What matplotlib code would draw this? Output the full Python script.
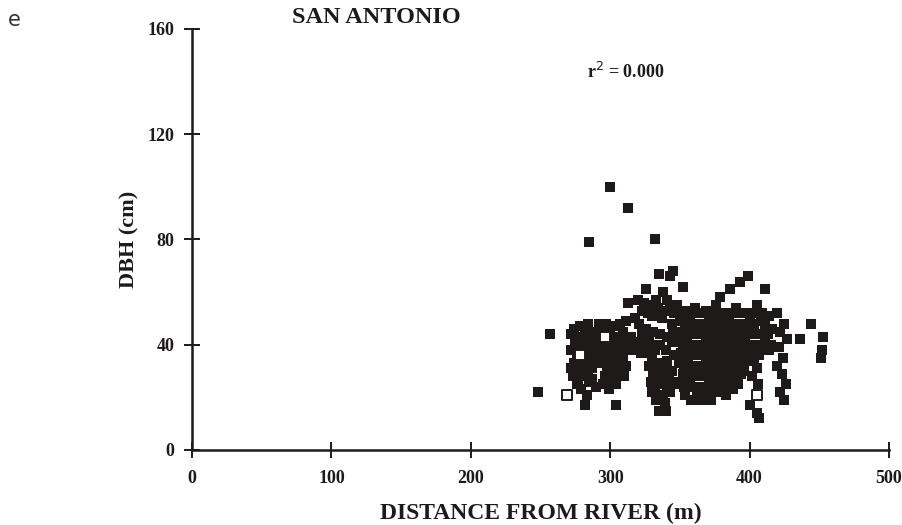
import matplotlib
matplotlib.use("Agg")
import matplotlib.pyplot as plt

# ---- data (distance from river in m, DBH in cm) ----
fill_x = [
    # outliers
    300, 313, 285, 332, 248, 257, 282, 304, 335,
    # left column
    272, 275, 272, 276, 274, 278, 273, 276, 279, 282, 285, 281, 286, 283, 287,
    281, 285, 288, 284, 278, 289, 280, 277, 283, 275, 288,
    274, 277, 280, 279, 272, 284, 287, 290, 283, 277, 290, 291,
    # block B
    292, 297, 302, 307, 311, 294, 293, 296, 294, 298, 301, 304, 299, 303, 306,
    302, 308, 310, 296, 305, 309, 312, 300, 307,
    295, 300, 304, 309, 297, 301, 305, 298, 303, 306, 295, 309, 311, 299,
    # band C
    313, 317, 321, 325, 329, 333, 316, 322, 327,
    315, 319, 324, 328, 332, 336, 340, 344, 346,
    # column D
    330, 334, 338, 331, 336, 340, 332, 337, 333, 339, 342, 341, 329, 343,
    332, 336, 330, 334, 338, 341, 344, 346, 328, 340,
    # upper E
    320, 324, 329, 334, 339, 343, 321, 326, 331, 336, 341, 330, 337, 344, 326,
    338, 335, 343, 352, 313, 345,
    323, 327, 333, 341, 346, 348, 323, 318, 345,
    # main blob
    355, 361, 369, 376, 382, 390, 398, 405,
    350, 357, 364, 371, 378, 385, 392, 400, 408, 414,
    352, 359, 366, 373, 380, 387, 394, 401, 409, 416,
    348, 355, 362, 369, 376, 383, 390, 397, 404, 411,
    351, 358, 365, 372, 379, 386, 393, 400, 407, 414,
    349, 356, 363, 370, 377, 384, 391, 398,
    352, 359, 366, 373, 380, 387, 394,
    350, 357, 364, 371, 378, 385, 392,
    354, 362, 369, 376, 383,
    379, 386, 393, 399, 411, 361, 369, 355, 388, 396,
    353, 360, 367, 374, 381, 388, 395, 402, 409,
    354, 361, 368, 375, 382, 389, 396, 403, 411,
    349, 356, 363, 370, 377, 384, 391, 398, 405, 413,
    352, 359, 366, 373, 380, 387, 394, 401, 408, 415,
    348, 355, 362, 369, 376, 383, 390, 397, 404,
    353, 360, 367, 374, 381, 388, 395,
    355, 362, 369, 376, 383, 390,
    353, 360, 367, 374, 381, 388,
    358, 365, 372,
    # column near 400
    403, 405, 402, 406, 400, 405, 407,
    # column near 422
    420, 425, 422, 427, 421, 424, 420, 423, 426, 422, 425,
    # far right
    436, 444, 453, 452, 451,
]
fill_y = [
    100, 92, 79, 80, 22, 44, 17, 17, 15,
    44, 41, 38, 36, 33, 30, 28, 25, 23, 46, 43, 39, 37, 34, 31,
    28, 26, 40, 48, 47, 45, 42, 39, 31, 30, 34,
    46, 43, 36, 33, 31, 29, 27, 24, 21, 27, 36, 42,
    48, 48, 47, 48, 49, 44, 40, 37, 33, 30, 27, 25, 42, 39, 36,
    33, 30, 28, 28, 43, 41, 38, 35, 33,
    46, 44, 47, 45, 40, 37, 40, 33, 30, 28, 25, 35, 32, 23,
    41, 40, 41, 40, 39, 40, 38, 37, 37,
    43, 38, 42, 41, 38, 40, 38, 41, 36,
    35, 33, 31, 29, 27, 25, 23, 21, 19, 18, 28, 34, 26, 22,
    32, 30, 22, 25, 19, 22, 30, 26, 32, 15,
    57, 56, 55, 54, 53, 55, 48, 46, 45, 44, 43, 51, 50, 48, 61,
    60, 67, 66, 62, 56, 68,
    53, 52, 57, 57, 52, 55, 45, 50, 45,
    53, 54, 53, 55, 52, 54, 52, 55,
    49, 50, 48, 50, 49, 51, 48, 50, 49, 51,
    45, 46, 44, 46, 45, 47, 45, 46, 44, 46,
    41, 42, 40, 42, 41, 43, 41, 42, 40, 42,
    37, 38, 36, 38, 37, 39, 37, 38, 36, 38,
    33, 34, 32, 34, 33, 35, 33, 34,
    29, 30, 28, 30, 29, 31, 29,
    25, 26, 24, 26, 25, 27, 25,
    21, 22, 20, 22, 21,
    58, 61, 64, 66, 61, 31, 35, 24, 23, 30,
    52, 52, 52, 52, 52, 52, 52, 52, 52,
    48, 48, 48, 48, 48, 48, 48, 48, 48,
    44, 44, 44, 44, 44, 44, 44, 44, 44, 44,
    40, 40, 40, 40, 40, 40, 40, 40, 40, 40,
    36, 36, 36, 36, 36, 36, 36, 36, 36,
    32, 32, 32, 32, 32, 32, 32,
    28, 28, 28, 28, 28, 28,
    24, 24, 24, 24, 24, 24,
    19, 19, 19,
    35, 31, 28, 25, 17, 14, 12,
    52, 48, 45, 42, 39, 35, 32, 29, 25, 22, 19,
    42, 48, 43, 38, 35,
]
open_x = [269, 405, 296, 278]
open_y = [21, 21, 43, 36]

x_ticks = [0, 100, 200, 300, 400, 500]
y_ticks = [0, 40, 80, 120, 160]

serif = ["Liberation Serif", "DejaVu Serif"]
ink = "#1e1a1a"

fig = plt.figure(figsize=(9.02, 5.25), dpi=100)
ax = fig.add_axes([0.2129, 0.1429, 0.9856 - 0.2129, 0.9448 - 0.1429])

ax.scatter(fill_x, fill_y, marker="s", s=44, c=ink, linewidths=0, clip_on=False, zorder=3)
ax.scatter(open_x, open_y, marker="s", s=44, facecolors="white", edgecolors=ink,
           linewidths=1.4, clip_on=False, zorder=4)

ax.set_xlim(0, 500)
ax.set_ylim(0, 160)
ax.set_xticks(x_ticks)
ax.set_yticks(y_ticks)
ax.set_xticklabels([str(t) for t in x_ticks], fontfamily=serif, fontweight="bold", fontsize=13)
ax.set_yticklabels([str(t) for t in y_ticks], fontfamily=serif, fontweight="bold", fontsize=13)
for s in ["top", "right"]:
    ax.spines[s].set_visible(False)
for s in ["left", "bottom"]:
    ax.spines[s].set_linewidth(1.8)
    ax.spines[s].set_color(ink)
ax.tick_params(axis="both", direction="inout", length=11, width=1.4, color=ink, labelcolor=ink)
ax.tick_params(axis="x", pad=9)
ax.tick_params(axis="y", pad=7)

ax.set_xlabel("DISTANCE FROM RIVER (m)", fontfamily=serif, fontweight="bold", fontsize=17,
              labelpad=11, color=ink)
ax.set_ylabel("DBH (cm)", fontfamily=serif, fontweight="bold", fontsize=16, labelpad=6, color=ink)

fig.text(0.417, 0.966, "SAN ANTONIO", fontfamily=serif, fontweight="bold", fontsize=17.5,
         ha="center", va="center", color=ink)
ax.text(283, 143.5, "r$^2$ = 0.000", fontfamily=serif, fontweight="bold", fontsize=13,
        ha="left", va="center", color=ink)
fig.text(0.009, 0.962, "e", fontfamily="DejaVu Sans", fontsize=15, color="#333333",
         ha="left", va="center")

fig.savefig("out.png", dpi=100)
